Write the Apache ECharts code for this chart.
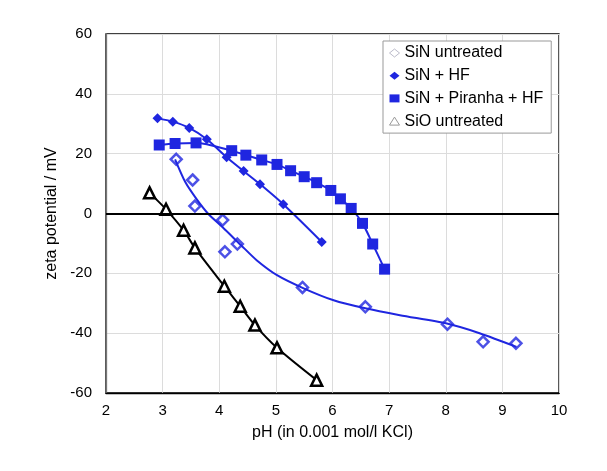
<!DOCTYPE html>
<html>
<head>
<meta charset="utf-8">
<script src="https://cdn.jsdelivr.net/npm/echarts@6/dist/echarts.min.js"></script>
<style>
  html, body { margin: 0; padding: 0; background: #fff; }
  #chart { width: 607px; height: 471px; }
</style>
</head>
<body>
<div id="chart"></div>
<script>
// measured points, [pH, zeta mV]
var sinUntreated = [[3.24, 18.1], [3.53, 11.2], [3.57, 2.5], [4.06, -2.2], [4.10, -12.8], [4.32, -10.2],
  [5.47, -24.7], [6.58, -31.2], [8.03, -37.0], [8.66, -42.9], [9.24, -43.4]];
// fitted curve drawn through the untreated SiN points
var sinUntreatedFit = [[3.22, 18.1], [3.40, 10.5], [3.60, 4.8], [3.80, 0], [4.06, -4.6], [4.39, -10.7],
  [4.66, -15.6], [5.02, -20.6], [5.49, -25.0], [6.02, -29.0], [6.58, -31.7], [7.19, -34.0],
  [8.02, -36.8], [8.61, -40.1], [9.25, -44.6]];
var sinHF = [[2.91, 31.8], [3.18, 30.7], [3.47, 28.6], [3.78, 24.8], [4.13, 18.8], [4.43, 14.2],
  [4.72, 9.8], [5.13, 3.1], [5.81, -9.5]];
var sinPiranhaHF = [[2.94, 22.9], [3.22, 23.4], [3.59, 23.6], [4.22, 21.0], [4.47, 19.5], [4.75, 17.9],
  [5.02, 16.4], [5.26, 14.3], [5.50, 12.3], [5.72, 10.3], [5.97, 7.7], [6.14, 4.9], [6.33, 1.7],
  [6.53, -3.3], [6.71, -10.2], [6.92, -18.6]];
var sioUntreated = [[2.77, 6.9], [3.06, 1.4], [3.37, -5.6], [3.57, -11.5], [4.09, -24.3], [4.37, -31.0],
  [4.63, -37.3], [5.02, -44.9], [5.72, -55.7]];

var blue = '#1f26e0';
var font = '"Liberation Sans", Arial, sans-serif';

var chart = echarts.init(document.getElementById('chart'));
chart.setOption({
  animation: false,
  backgroundColor: '#fff',
  textStyle: { fontFamily: font },
  grid: {
    left: 106, right: 48, top: 34, bottom: 78,
    containLabel: false, outerBoundsMode: 'none',
    show: true, borderColor: '#000', borderWidth: 1.3
  },
  legend: {
    orient: 'vertical',
    left: 383, top: 41,
    padding: [4, 8, 4, 6],
    backgroundColor: '#fff',
    borderColor: '#999', borderWidth: 1,
    itemWidth: 10, itemHeight: 8, itemGap: 6.7,
    textStyle: { fontSize: 16, color: '#000', fontFamily: font, lineHeight: 16 },
    data: [
      { name: 'SiN untreated', icon: 'diamond', itemStyle: { color: '#fff', borderColor: '#aab', borderWidth: 1 } },
      { name: 'SiN + HF', icon: 'diamond' },
      { name: 'SiN + Piranha + HF', icon: 'rect' },
      { name: 'SiO untreated', icon: 'triangle', itemStyle: { color: '#fff', borderColor: '#999', borderWidth: 1 } }
    ]
  },
  xAxis: {
    type: 'value', min: 2, max: 10, interval: 1,
    name: 'pH (in 0.001 mol/l KCl)',
    nameLocation: 'middle', nameGap: 32,
    nameTextStyle: { fontSize: 16, color: '#000' },
    axisLine: { onZero: false, lineStyle: { color: '#000', width: 1.3 } },
    axisTick: { show: false },
    axisLabel: { fontSize: 15, color: '#000', margin: 10 },
    splitLine: { lineStyle: { color: '#dcdcdc', width: 1 } }
  },
  yAxis: {
    type: 'value', min: -60, max: 60, interval: 20,
    name: 'zeta potential / mV',
    nameLocation: 'middle', nameGap: 38,
    nameTextStyle: { fontSize: 16, color: '#000' },
    axisLine: { show: true, lineStyle: { color: '#777', width: 1.3 } },
    axisTick: { show: false },
    axisLabel: { fontSize: 15, color: '#000', margin: 14 },
    splitLine: { lineStyle: { color: '#dcdcdc', width: 1 } }
  },
  series: [
    {
      name: 'untreated fit',
      type: 'line',
      data: sinUntreatedFit,
      smooth: 0.25,
      showSymbol: false,
      lineStyle: { color: blue, width: 2 },
      markLine: {
        silent: true, symbol: 'none',
        label: { show: false },
        lineStyle: { color: '#000', width: 2, type: 'solid' },
        data: [{ yAxis: 0 }]
      }
    },
    {
      name: 'SiN untreated',
      type: 'scatter',
      data: sinUntreated,
      symbol: 'diamond', symbolSize: 11,
      itemStyle: { color: '#fff', borderColor: blue, borderWidth: 2.5 }
    },
    {
      name: 'SiN + HF',
      type: 'line',
      data: sinHF,
      smooth: 0.3,
      symbol: 'diamond', symbolSize: 10,
      lineStyle: { color: blue, width: 2 },
      itemStyle: { color: blue }
    },
    {
      name: 'SiN + Piranha + HF',
      type: 'line',
      data: sinPiranhaHF,
      smooth: 0.3,
      symbol: 'rect', symbolSize: 11,
      lineStyle: { color: blue, width: 2 },
      itemStyle: { color: blue }
    },
    {
      name: 'SiO untreated',
      type: 'line',
      data: sioUntreated,
      smooth: 0.3,
      symbol: 'triangle', symbolSize: 11,
      lineStyle: { color: '#000', width: 2 },
      itemStyle: { color: '#fff', borderColor: '#000', borderWidth: 2.5 }
    }
  ]
});
</script>
</body>
</html>
